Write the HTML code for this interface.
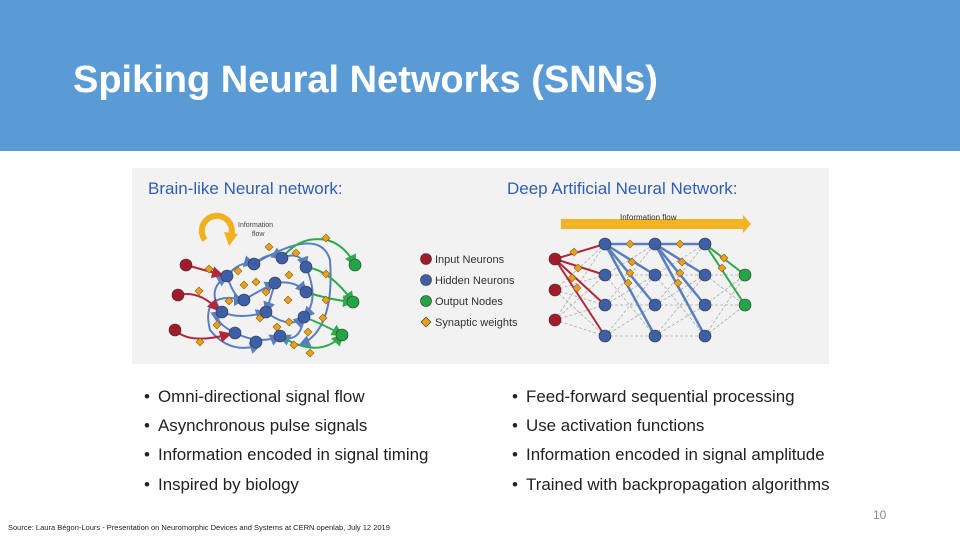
<!DOCTYPE html>
<html><head><meta charset="utf-8"><style>
body{margin:0;width:960px;height:540px;overflow:hidden;background:#fff;font-family:"Liberation Sans",sans-serif;position:relative}
.hdr{position:absolute;left:0;top:0;width:960px;height:151px;background:#5b9bd5}
.hdr h1{position:absolute;left:73px;top:59px;margin:0;font-weight:bold;font-size:38px;color:#fff}
.b{position:absolute;font-size:16.9px;color:#222;white-space:nowrap}
.b span{position:absolute;left:-14px}
.src{position:absolute;left:8px;top:523px;font-size:7.5px;color:#222}
.pg{position:absolute;left:873px;top:508px;font-size:12px;color:#888}
</style></head><body>
<div class="hdr"><h1>Spiking Neural Networks (SNNs)</h1></div>
<svg style="position:absolute;left:0;top:0" width="960" height="540">
<defs>
<marker id="ab" markerWidth="6" markerHeight="6" refX="5" refY="3" orient="auto"><path d="M0,0L6,3L0,6z" fill="#5a7fbf"/></marker>
<marker id="ag" markerWidth="6" markerHeight="6" refX="5" refY="3" orient="auto"><path d="M0,0L6,3L0,6z" fill="#2eaa4a"/></marker>
<marker id="ar" markerWidth="6" markerHeight="6" refX="5" refY="3" orient="auto"><path d="M0,0L6,3L0,6z" fill="#b0283a"/></marker>
</defs>
<rect x="132" y="168" width="697" height="196" fill="#f2f2f2"/>
<text x="148" y="194" font-size="17" fill="#2f5fb3">Brain-like Neural network:</text>
<text x="507" y="194" font-size="17" fill="#2f5fb3">Deep Artificial Neural Network:</text>
<path d="M205,240 A15,15 0 1 1 230,238" fill="none" stroke="#f0b020" stroke-width="6"/>
<path d="M224,232 L238,234 L229,246z" fill="#f0b020"/>
<text x="238" y="227" font-size="7" fill="#444">Information</text>
<text x="252" y="236" font-size="7" fill="#444">flow</text>
<g fill="none" stroke="#5a7fbf" stroke-width="2" marker-end="url(#ab)">
<path d="M227,276 Q240,260 254,264"/><path d="M254,264 Q270,250 282,258"/><path d="M282,258 Q300,250 306,267"/>
<path d="M306,267 Q320,300 304,317"/><path d="M244,300 Q260,290 275,283"/><path d="M275,283 Q295,280 306,292"/>
<path d="M222,312 Q240,320 266,312"/><path d="M266,312 Q290,330 304,317"/><path d="M235,333 Q260,345 280,336"/>
<path d="M304,317 Q300,345 280,336"/><path d="M222,312 Q205,290 227,276"/><path d="M227,276 Q235,300 244,300"/>
<path d="M235,333 Q210,320 222,312"/><path d="M254,264 Q320,225 330,260 Q335,330 300,345"/>
<path d="M244,300 Q200,290 210,330 Q230,355 260,345"/><path d="M275,283 Q270,300 266,312"/>
</g>
<g fill="none" stroke="#2eaa4a" stroke-width="2" marker-end="url(#ag)">
<path d="M282,258 Q300,235 327,240 Q345,245 355,265"/><path d="M306,267 Q330,270 353,302"/>
<path d="M306,292 Q330,300 353,302"/><path d="M304,317 Q325,325 342,335"/><path d="M280,336 Q320,360 342,335"/>
</g>
<g fill="none" stroke="#b0283a" stroke-width="2" marker-end="url(#ar)">
<path d="M186,265 L222,275"/><path d="M178,295 Q200,290 218,310"/><path d="M175,330 Q190,345 230,334"/>
</g>
<g fill="#e8a020" stroke="#8a6010" stroke-width="0.6">
<path d="M205,269 l4,-4 l4,4 l-4,4z"/><path d="M195,291 l4,-4 l4,4 l-4,4z"/><path d="M196,342 l4,-4 l4,4 l-4,4z"/>
<path d="M234,271 l4,-4 l4,4 l-4,4z"/><path d="M240,285 l4,-4 l4,4 l-4,4z"/><path d="M252,282 l4,-4 l4,4 l-4,4z"/>
<path d="M265,247 l4,-4 l4,4 l-4,4z"/><path d="M292,253 l4,-4 l4,4 l-4,4z"/><path d="M285,275 l4,-4 l4,4 l-4,4z"/>
<path d="M284,300 l4,-4 l4,4 l-4,4z"/><path d="M256,318 l4,-4 l4,4 l-4,4z"/><path d="M273,327 l4,-4 l4,4 l-4,4z"/>
<path d="M225,301 l4,-4 l4,4 l-4,4z"/><path d="M213,325 l4,-4 l4,4 l-4,4z"/><path d="M290,345 l4,-4 l4,4 l-4,4z"/>
<path d="M322,238 l4,-4 l4,4 l-4,4z"/><path d="M322,274 l4,-4 l4,4 l-4,4z"/><path d="M322,300 l4,-4 l4,4 l-4,4z"/>
<path d="M319,318 l4,-4 l4,4 l-4,4z"/><path d="M304,332 l4,-4 l4,4 l-4,4z"/><path d="M306,353 l4,-4 l4,4 l-4,4z"/>
<path d="M262,292 l4,-4 l4,4 l-4,4z"/><path d="M285,322 l4,-4 l4,4 l-4,4z"/>
</g>
<g stroke="#333" stroke-width="0.6">
<circle cx="186" cy="265" r="6" fill="#a21b2b"/><circle cx="178" cy="295" r="6" fill="#a21b2b"/><circle cx="175" cy="330" r="6" fill="#a21b2b"/>
<g fill="#3d5fa8"><circle cx="227" cy="276" r="6"/><circle cx="254" cy="264" r="6"/><circle cx="282" cy="258" r="6"/><circle cx="306" cy="267" r="6"/><circle cx="244" cy="300" r="6"/><circle cx="275" cy="283" r="6"/><circle cx="306" cy="292" r="6"/><circle cx="222" cy="312" r="6"/><circle cx="266" cy="312" r="6"/><circle cx="304" cy="317" r="6"/><circle cx="235" cy="333" r="6"/><circle cx="280" cy="336" r="6"/><circle cx="256" cy="342" r="6"/></g>
<g fill="#23a544"><circle cx="355" cy="265" r="6"/><circle cx="353" cy="302" r="6"/><circle cx="342" cy="335" r="6"/></g>
</g>
<g stroke="#333" stroke-width="0.6">
<circle cx="426" cy="259" r="5.5" fill="#a21b2b"/><circle cx="426" cy="280" r="5.5" fill="#3d5fa8"/><circle cx="426" cy="301" r="5.5" fill="#23a544"/>
<path d="M421,322 l5,-5 l5,5 l-5,5z" fill="#e8a020"/>
</g>
<g font-size="11" fill="#333"><text x="435" y="263">Input Neurons</text><text x="435" y="284">Hidden Neurons</text><text x="435" y="305">Output Nodes</text><text x="435" y="326">Synaptic weights</text></g>
<path d="M561,219 H743 V215 L751,224 L743,233 V229 H561z" fill="#f3b424"/>
<text x="620" y="220" font-size="8" fill="#333">Information flow</text>
<g stroke="#aaa" stroke-width="0.8" stroke-dasharray="3,2">
<path d="M555,259 L605,244 M555,259 L605,275 M555,259 L605,305 M555,259 L605,336 M555,290 L605,244 M555,290 L605,275 M555,290 L605,305 M555,290 L605,336 M555,320 L605,244 M555,320 L605,275 M555,320 L605,305 M555,320 L605,336"/>
<path d="M605,244 L655,275 M605,244 L655,305 M605,275 L655,244 M605,275 L655,336 M605,305 L655,244 M605,305 L655,275 M605,305 L655,305 M605,336 L655,275 M605,336 L655,305 M605,336 L655,336 M605,275 L655,275"/>
<path d="M655,244 L705,275 M655,244 L705,305 M655,275 L705,244 M655,275 L705,336 M655,305 L705,244 M655,305 L705,275 M655,305 L705,305 M655,336 L705,275 M655,336 L705,305 M655,336 L705,336 M655,275 L705,275"/>
<path d="M705,275 L745,275 M705,275 L745,305 M705,305 L745,275 M705,305 L745,305 M705,336 L745,275 M705,336 L745,305 M705,244 L745,305"/>
</g>
<g stroke="#b0283a" stroke-width="2"><path d="M555,259 L605,244 M555,259 L605,275 M555,259 L605,305 M555,259 L605,336"/></g>
<g stroke="#5a7fbf" stroke-width="2.5"><path d="M605,244 L705,244 M605,244 L655,275 M605,244 L655,305 M605,244 L655,336 M655,244 L705,275 M655,244 L705,305 M655,244 L705,336"/></g>
<g stroke="#2eaa4a" stroke-width="2"><path d="M705,244 L745,275 M705,244 L745,305"/></g>
<g fill="#e8a020" stroke="#8a6010" stroke-width="0.6">
<path d="M570,252 l4,-4 l4,4 l-4,4z"/><path d="M574,268 l4,-4 l4,4 l-4,4z"/><path d="M568,278 l4,-4 l4,4 l-4,4z"/><path d="M573,288 l4,-4 l4,4 l-4,4z"/>
<path d="M626,244 l4,-4 l4,4 l-4,4z"/><path d="M628,262 l4,-4 l4,4 l-4,4z"/><path d="M626,273 l4,-4 l4,4 l-4,4z"/><path d="M624,283 l4,-4 l4,4 l-4,4z"/>
<path d="M676,244 l4,-4 l4,4 l-4,4z"/><path d="M678,262 l4,-4 l4,4 l-4,4z"/><path d="M676,273 l4,-4 l4,4 l-4,4z"/><path d="M674,283 l4,-4 l4,4 l-4,4z"/>
<path d="M720,258 l4,-4 l4,4 l-4,4z"/><path d="M718,268 l4,-4 l4,4 l-4,4z"/>
</g>
<g stroke="#333" stroke-width="0.6">
<g fill="#a21b2b"><circle cx="555" cy="259" r="6"/><circle cx="555" cy="290" r="6"/><circle cx="555" cy="320" r="6"/></g>
<g fill="#3d5fa8"><circle cx="605" cy="244" r="6"/><circle cx="605" cy="275" r="6"/><circle cx="605" cy="305" r="6"/><circle cx="605" cy="336" r="6"/><circle cx="655" cy="244" r="6"/><circle cx="655" cy="275" r="6"/><circle cx="655" cy="305" r="6"/><circle cx="655" cy="336" r="6"/><circle cx="705" cy="244" r="6"/><circle cx="705" cy="275" r="6"/><circle cx="705" cy="305" r="6"/><circle cx="705" cy="336" r="6"/></g>
<g fill="#23a544"><circle cx="745" cy="275" r="6"/><circle cx="745" cy="305" r="6"/></g>
</g>
</svg>
<div class="b" style="left:158px;top:387px"><span>•</span>Omni-directional signal flow</div>
<div class="b" style="left:158px;top:416px"><span>•</span>Asynchronous pulse signals</div>
<div class="b" style="left:158px;top:445px"><span>•</span>Information encoded in signal timing</div>
<div class="b" style="left:158px;top:475px"><span>•</span>Inspired by biology</div>
<div class="b" style="left:526px;top:387px"><span>•</span>Feed-forward sequential processing</div>
<div class="b" style="left:526px;top:416px"><span>•</span>Use activation functions</div>
<div class="b" style="left:526px;top:445px"><span>•</span>Information encoded in signal amplitude</div>
<div class="b" style="left:526px;top:475px"><span>•</span>Trained with backpropagation algorithms</div>
<div class="src">Source: Laura Bégon-Lours - Presentation on Neuromorphic Devices and Systems at CERN openlab, July 12 2019</div>
<div class="pg">10</div>
</body></html>
